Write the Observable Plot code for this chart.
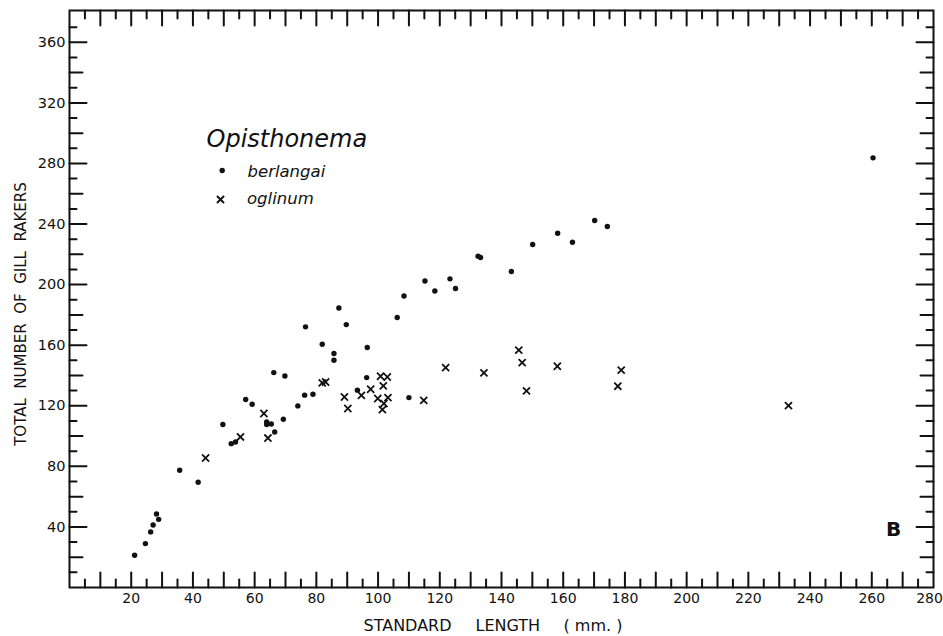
<!DOCTYPE html>
<html>
<head>
<meta charset="utf-8">
<script src="https://cdn.jsdelivr.net/npm/d3@7"></script>
<script src="https://cdn.jsdelivr.net/npm/@observablehq/plot@0.6"></script>
<style>
  body { margin: 0; background: #fff; }
  svg { display: block; }
</style>
</head>
<body>
<div id="chart"></div>
<script>
// Opisthonema berlangai: standard length (mm) and total gill rakers
const berlangaiLength = [21.1, 24.6, 26.3, 27.1, 28.2, 28.9, 35.7, 41.7, 49.7, 52.4, 53.8, 57.1,
  59.2, 63.9, 63.9, 65.4, 66.5, 69.3, 66.2, 69.8, 74.0, 76.2, 78.9, 76.5, 81.9, 85.7, 85.7,
  87.3, 89.7, 96.3, 96.5, 93.3, 106.2, 108.4, 115.2, 118.4, 123.3, 125.1, 132.4, 133.2,
  143.2, 150.1, 158.2, 163.0, 170.2, 174.3, 260.4, 110.0];
const berlangaiRakers = [21.3, 29.0, 36.7, 41.3, 48.5, 45.0, 77.4, 69.5, 107.6, 95.0, 96.1, 124.1,
  121.0, 109.3, 107.6, 108.0, 102.7, 111.1, 141.9, 139.7, 119.9, 127.0, 127.6, 172.1, 160.6, 154.5, 150.1,
  184.6, 173.6, 138.6, 158.5, 130.3, 178.3, 192.5, 202.4, 195.8, 203.8, 197.4, 218.8, 217.9,
  208.7, 226.5, 233.9, 228.0, 242.3, 238.4, 283.7, 125.4];

// Opisthonema oglinum
const oglinumLength = [44.1, 55.4, 63.0, 64.3, 81.9, 83.0, 89.1, 90.2, 94.6, 97.6, 100.8, 103.0,
  101.7, 99.9, 103.2, 101.9, 101.4, 114.8, 121.9, 134.3, 145.6, 146.7, 148.1, 158.1, 178.8,
  177.7, 233.0];
const oglinumRakers = [85.5, 99.4, 114.9, 98.7, 135.1, 135.7, 125.8, 118.2, 126.9, 130.9, 139.5, 139.0,
  133.1, 124.8, 125.4, 121.5, 117.5, 123.6, 145.2, 141.7, 156.7, 148.5, 129.8, 146.1, 143.5,
  132.9, 120.1];

// Axis labels
const xTickLabels = [20, 40, 60, 80, 100, 120, 140, 160, 180, 200, 220, 240, 260];
const xLastLabel = [280];
const yTickLabels = [40, 80, 120, 160, 200, 240, 280, 320, 360];

const berlangai = berlangaiLength.map((x, i) => ({length: x, rakers: berlangaiRakers[i]}));
const oglinum = oglinumLength.map((x, i) => ({length: x, rakers: oglinumRakers[i]}));

// tick positions: x every 5 mm (long at tens), y every 10 rakers (long at 40s, medium at 20s)
const xMajor = d3.range(10, 280, 10);
const xMinor = d3.range(5, 280, 10);
const yLong = d3.range(40, 380, 40);
const yMedium = d3.range(20, 380, 40);
const yShort = d3.range(10, 381, 20);

// plain line used as an inward tick
const tick = {draw(context, l) { context.moveTo(0, 0); context.lineTo(0, -l); }};

const font = "DejaVu Sans, sans-serif";

function xTicks(values, length) {
  return [
    Plot.vector(values, {x: d => d, frameAnchor: "bottom", length, rotate: 0, anchor: "start", shape: tick, stroke: "#111", strokeWidth: 2}),
    Plot.vector(values, {x: d => d, frameAnchor: "top", length, rotate: 180, anchor: "start", shape: tick, stroke: "#111", strokeWidth: 2})
  ];
}
function yTicks(values, length) {
  return [
    Plot.vector(values, {y: d => d, frameAnchor: "left", length, rotate: 90, anchor: "start", shape: tick, stroke: "#111", strokeWidth: 2}),
    Plot.vector(values, {y: d => d, frameAnchor: "right", length, rotate: -90, anchor: "start", shape: tick, stroke: "#111", strokeWidth: 2})
  ];
}

const chart = Plot.plot({
  width: 943,
  height: 636,
  marginLeft: 69,
  marginRight: 10,
  marginTop: 10,
  marginBottom: 49,
  style: {fontFamily: font, background: "#fff", color: "#111"},
  x: {domain: [0, 280]},
  y: {domain: [0, 381]},
  marks: [
    Plot.axisX(xTickLabels, {anchor: "bottom", tickSize: 0, tickPadding: 6, fontSize: 14, label: null, tickFormat: d => String(d)}),
    Plot.axisX(xLastLabel, {anchor: "bottom", tickSize: 0, tickPadding: 6, fontSize: 14, label: null, dx: -4, tickFormat: d => String(d)}),
    Plot.axisY(yTickLabels, {anchor: "left", tickSize: 0, tickPadding: 4, fontSize: 14.5, label: null, tickFormat: d => String(d)}),
    ...xTicks(xMajor, 15),
    ...xTicks(xMinor, 8),
    ...yTicks(yLong, 17),
    ...yTicks(yMedium, 13),
    ...yTicks(yShort, 7),
    Plot.frame({stroke: "#111", strokeWidth: 2}),
    Plot.dot(berlangai, {x: "length", y: "rakers", r: 2.7, fill: "#111", stroke: null}),
    Plot.dot(oglinum, {x: "length", y: "rakers", symbol: "times", r: 3.3, stroke: "#111", strokeWidth: 1.8}),
    // axis titles
    Plot.text(["STANDARD"], {frameAnchor: "bottom-left", dx: 294, dy: 38, textAnchor: "start", lineAnchor: "middle", fontSize: 16, letterSpacing: "1.8px"}),
    Plot.text(["LENGTH"], {frameAnchor: "bottom-left", dx: 406, dy: 38, textAnchor: "start", lineAnchor: "middle", fontSize: 16, letterSpacing: "1.6px"}),
    Plot.text(["( mm. )"], {frameAnchor: "bottom-left", dx: 494, dy: 38, textAnchor: "start", lineAnchor: "middle", fontSize: 16, letterSpacing: "1.3px"}),
    Plot.text(["TOTAL  NUMBER  OF  GILL  RAKERS"], {frameAnchor: "left", dx: -48, dy: 15, rotate: -90, textAnchor: "middle", lineAnchor: "middle", fontSize: 15, letterSpacing: "1.15px"}),
    // legend
    Plot.text(["Opisthonema"], {frameAnchor: "top-left", dx: 137, dy: 128.5, textAnchor: "start", lineAnchor: "middle", fontSize: 24, fontStyle: "italic"}),
    Plot.dot([0], {frameAnchor: "top-left", dx: 152.7, dy: 160, r: 2.7, fill: "#111", stroke: null}),
    Plot.text(["berlangai"], {frameAnchor: "top-left", dx: 178, dy: 161.6, textAnchor: "start", lineAnchor: "middle", fontSize: 16.5, fontStyle: "italic"}),
    Plot.dot([0], {frameAnchor: "top-left", dx: 151, dy: 189, symbol: "times", r: 3.3, stroke: "#111", strokeWidth: 1.9}),
    Plot.text(["oglinum"], {frameAnchor: "top-left", dx: 177.5, dy: 188, textAnchor: "start", lineAnchor: "middle", fontSize: 16.5, fontStyle: "italic"}),
    // panel letter
    Plot.text(["B"], {frameAnchor: "bottom-right", dx: -40, dy: -58, textAnchor: "middle", lineAnchor: "middle", fontSize: 20, fontWeight: "bold"})
  ]
});

// keep repeated spaces in the rotated title
chart.querySelectorAll("text").forEach(t => t.setAttribute("xml:space", "preserve"));
chart.style.whiteSpace = "pre";
document.getElementById("chart").append(chart);
</script>
</body>
</html>
